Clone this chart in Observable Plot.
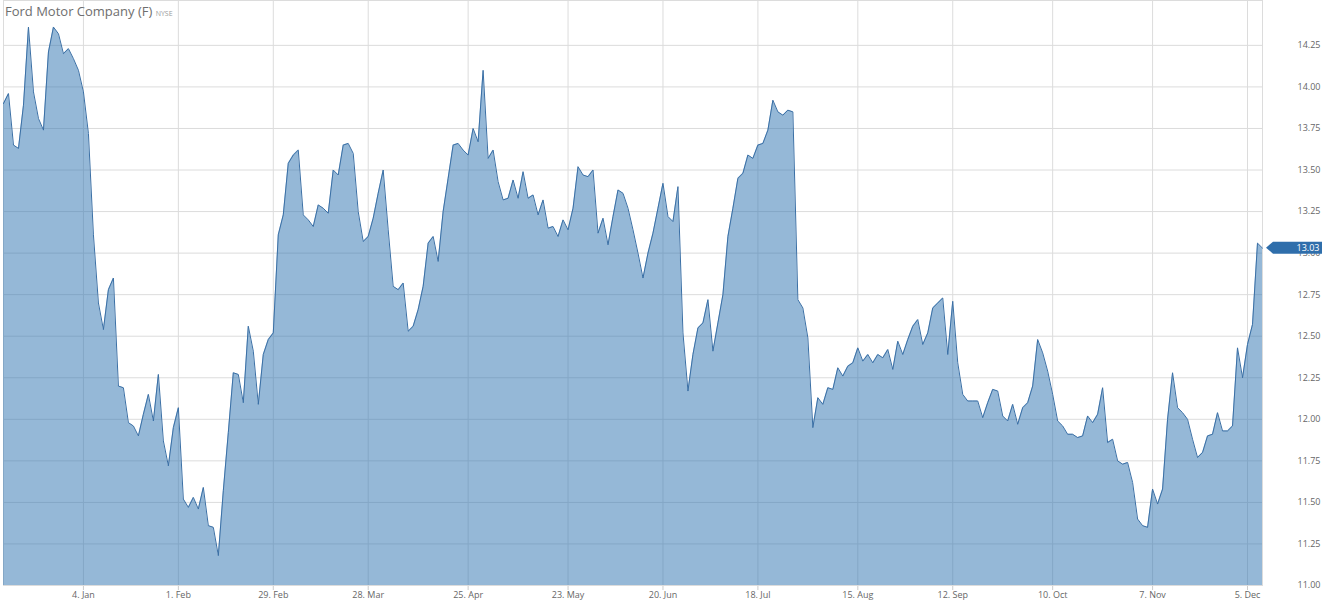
<!DOCTYPE html>
<html>
<head>
<meta charset="utf-8">
<script src="https://cdn.jsdelivr.net/npm/d3@7"></script>
<script src="https://cdn.jsdelivr.net/npm/@observablehq/plot@0.6"></script>
<style>
  html, body { margin: 0; padding: 0; background: #fff; }
  #wrap { position: relative; width: 1327px; height: 602px; font-family: "Open Sans", sans-serif; }
  #title { position: absolute; left: 5px; top: 2px; font-size: 13px; color: #6e6e6e; white-space: nowrap; pointer-events: none; }
  #title .ex { font-size: 7px; color: #9a9a9a; margin-left: 0px; }
  svg [aria-label="x-axis tick"] { stroke: #cccccc; }
</style>
</head>
<body>
<div id="wrap">
  <div id="chart"></div>
  <div id="title">Ford Motor Company (F) <span class="ex">NYSE</span></div>
</div>
<script>
// Trading days (NYSE), Dec 2015 – Dec 2016
const dates = [
  "2015-12-09","2015-12-10","2015-12-11","2015-12-14","2015-12-15","2015-12-16","2015-12-17","2015-12-18","2015-12-21","2015-12-22","2015-12-23","2015-12-24","2015-12-28","2015-12-29","2015-12-30","2015-12-31",
  "2016-01-04","2016-01-05","2016-01-06","2016-01-07","2016-01-08","2016-01-11","2016-01-12","2016-01-13","2016-01-14","2016-01-15","2016-01-19","2016-01-20","2016-01-21","2016-01-22","2016-01-25","2016-01-26","2016-01-27","2016-01-28","2016-01-29",
  "2016-02-01","2016-02-02","2016-02-03","2016-02-04","2016-02-05","2016-02-08","2016-02-09","2016-02-10","2016-02-11","2016-02-12","2016-02-16","2016-02-17","2016-02-18","2016-02-19","2016-02-22","2016-02-23","2016-02-24","2016-02-25","2016-02-26","2016-02-29",
  "2016-03-01","2016-03-02","2016-03-03","2016-03-04","2016-03-07","2016-03-08","2016-03-09","2016-03-10","2016-03-11","2016-03-14","2016-03-15","2016-03-16","2016-03-17","2016-03-18","2016-03-21","2016-03-22","2016-03-23","2016-03-24","2016-03-28","2016-03-29","2016-03-30","2016-03-31",
  "2016-04-01","2016-04-04","2016-04-05","2016-04-06","2016-04-07","2016-04-08","2016-04-11","2016-04-12","2016-04-13","2016-04-14","2016-04-15","2016-04-18","2016-04-19","2016-04-20","2016-04-21","2016-04-22","2016-04-25","2016-04-26","2016-04-27","2016-04-28","2016-04-29",
  "2016-05-02","2016-05-03","2016-05-04","2016-05-05","2016-05-06","2016-05-09","2016-05-10","2016-05-11","2016-05-12","2016-05-13","2016-05-16","2016-05-17","2016-05-18","2016-05-19","2016-05-20","2016-05-23","2016-05-24","2016-05-25","2016-05-26","2016-05-27","2016-05-31",
  "2016-06-01","2016-06-02","2016-06-03","2016-06-06","2016-06-07","2016-06-08","2016-06-09","2016-06-10","2016-06-13","2016-06-14","2016-06-15","2016-06-16","2016-06-17","2016-06-20","2016-06-21","2016-06-22","2016-06-23","2016-06-24","2016-06-27","2016-06-28","2016-06-29","2016-06-30",
  "2016-07-01","2016-07-05","2016-07-06","2016-07-07","2016-07-08","2016-07-11","2016-07-12","2016-07-13","2016-07-14","2016-07-15","2016-07-18","2016-07-19","2016-07-20","2016-07-21","2016-07-22","2016-07-25","2016-07-26","2016-07-27","2016-07-28","2016-07-29",
  "2016-08-01","2016-08-02","2016-08-03","2016-08-04","2016-08-05","2016-08-08","2016-08-09","2016-08-10","2016-08-11","2016-08-12","2016-08-15","2016-08-16","2016-08-17","2016-08-18","2016-08-19","2016-08-22","2016-08-23","2016-08-24","2016-08-25","2016-08-26","2016-08-29","2016-08-30","2016-08-31",
  "2016-09-01","2016-09-02","2016-09-06","2016-09-07","2016-09-08","2016-09-09","2016-09-12","2016-09-13","2016-09-14","2016-09-15","2016-09-16","2016-09-19","2016-09-20","2016-09-21","2016-09-22","2016-09-23","2016-09-26","2016-09-27","2016-09-28","2016-09-29","2016-09-30",
  "2016-10-03","2016-10-04","2016-10-05","2016-10-06","2016-10-07","2016-10-10","2016-10-11","2016-10-12","2016-10-13","2016-10-14","2016-10-17","2016-10-18","2016-10-19","2016-10-20","2016-10-21","2016-10-24","2016-10-25","2016-10-26","2016-10-27","2016-10-28","2016-10-31",
  "2016-11-01","2016-11-02","2016-11-03","2016-11-04","2016-11-07","2016-11-08","2016-11-09","2016-11-10","2016-11-11","2016-11-14","2016-11-15","2016-11-16","2016-11-17","2016-11-18","2016-11-21","2016-11-22","2016-11-23","2016-11-25","2016-11-28","2016-11-29","2016-11-30",
  "2016-12-01","2016-12-02","2016-12-05","2016-12-06","2016-12-07","2016-12-08"
];

// Closing prices (USD)
const prices = [
  13.90,13.96,13.65,13.63,13.89,14.36,13.97,13.81,13.74,14.21,14.36,14.32,14.20,14.23,14.17,14.10,
  13.97,13.72,13.11,12.70,12.54,12.78,12.85,12.20,12.19,11.98,11.96,11.90,12.03,12.15,11.99,12.27,11.87,11.72,11.95,
  12.07,11.52,11.47,11.53,11.46,11.59,11.36,11.35,11.18,11.57,11.92,12.28,12.27,12.10,12.56,12.41,12.09,12.39,12.48,12.52,
  13.11,13.23,13.54,13.59,13.62,13.23,13.20,13.16,13.29,13.27,13.24,13.50,13.47,13.65,13.66,13.60,13.25,13.07,13.10,13.21,13.36,13.50,
  13.14,12.80,12.78,12.82,12.53,12.56,12.66,12.80,13.06,13.10,12.95,13.25,13.45,13.65,13.66,13.62,13.59,13.75,13.67,14.10,13.57,
  13.62,13.43,13.32,13.33,13.44,13.33,13.49,13.33,13.35,13.23,13.32,13.15,13.16,13.10,13.20,13.14,13.27,13.52,13.47,13.46,13.50,
  13.12,13.21,13.05,13.22,13.38,13.36,13.27,13.14,13.00,12.85,13.00,13.12,13.27,13.42,13.22,13.19,13.40,12.52,12.17,12.39,12.55,12.58,
  12.72,12.41,12.58,12.75,13.10,13.27,13.45,13.48,13.59,13.57,13.65,13.66,13.74,13.92,13.85,13.83,13.86,13.85,12.72,12.67,
  12.49,11.95,12.13,12.09,12.19,12.18,12.31,12.26,12.32,12.34,12.43,12.35,12.39,12.34,12.39,12.37,12.42,12.30,12.47,12.39,12.48,12.56,12.60,
  12.45,12.52,12.67,12.70,12.73,12.39,12.71,12.34,12.15,12.11,12.11,12.11,12.01,12.10,12.18,12.17,12.02,11.99,12.09,11.97,12.07,
  12.10,12.20,12.48,12.40,12.29,12.15,11.99,11.96,11.91,11.91,11.89,11.90,12.02,11.98,12.03,12.19,11.86,11.88,11.75,11.73,11.74,
  11.62,11.40,11.36,11.35,11.58,11.49,11.58,12.00,12.28,12.07,12.04,12.00,11.88,11.77,11.80,11.90,11.91,12.04,11.93,11.93,11.96,
  12.43,12.25,12.45,12.57,13.06,13.03
];

// X-axis tick dates and labels
const tickDates = ["2016-01-04","2016-02-01","2016-02-29","2016-03-28","2016-04-25","2016-05-23","2016-06-20","2016-07-18","2016-08-15","2016-09-12","2016-10-10","2016-11-07","2016-12-05"];
const tickLabels = ["4. Jan","1. Feb","29. Feb","28. Mar","25. Apr","23. May","20. Jun","18. Jul","15. Aug","12. Sep","10. Oct","7. Nov","5. Dec"];

// Y-axis ticks and domain
const yTicks = [11.00,11.25,11.50,11.75,12.00,12.25,12.50,12.75,13.00,13.25,13.50,13.75,14.00,14.25];
const yDomain = [11.00, 14.52];

const data = dates.map((d, i) => ({i, date: d, price: prices[i]}));
const tickIdx = tickDates.map(d => dates.indexOf(d));
const lastIdx = dates.length - 1;
const lastPrice = prices[prices.length - 1];

function lastPriceFlag(index, scales, values, dimensions) {
  const y = scales.y(lastPrice);
  const x0 = dimensions.width - dimensions.marginRight + 4;
  const g = d3.create("svg:g");
  g.append("path")
    .attr("d", `M${x0},${y} L${x0 + 7},${y - 6} H${x0 + 56} V${y + 6} H${x0 + 7} Z`)
    .attr("fill", "#2f6eab");
  g.append("text")
    .attr("x", x0 + 42)
    .attr("y", y)
    .attr("dy", "0.35em")
    .attr("text-anchor", "middle")
    .attr("fill", "#ffffff")
    .attr("font-size", 9)
    .text(lastPrice.toFixed(2));
  return g.node();
}

const chart = Plot.plot({
  width: 1327,
  height: 602,
  marginLeft: 3,
  marginRight: 65,
  marginTop: 0,
  marginBottom: 17,
  style: {fontFamily: "'Open Sans', sans-serif", fontSize: "9px", color: "#666666", background: "#ffffff", overflow: "visible"},
  x: {
    type: "linear",
    domain: [0, lastIdx],
    ticks: tickIdx,
    tickFormat: v => tickLabels[tickIdx.indexOf(v)],
    tickSize: 5,
    tickPadding: 1,
    label: null
  },
  y: {
    domain: yDomain,
    axis: "right",
    ticks: yTicks,
    tickFormat: v => v.toFixed(2),
    tickSize: 0,
    tickPadding: 35,
    label: null
  },
  marks: [
    Plot.ruleY(yTicks, {stroke: "#dcdcdc", strokeWidth: 1}),
    Plot.ruleX(tickIdx, {stroke: "#dcdcdc", strokeWidth: 1}),
    Plot.frame({stroke: "#dcdcdc"}),
    Plot.areaY(data, {x: "i", y1: yDomain[0], y2: "price", fill: "#2b72b0", fillOpacity: 0.5}),
    Plot.lineY(data, {x: "i", y: "price", stroke: "#3a6fa5", strokeWidth: 1}),
    lastPriceFlag
  ]
});
document.getElementById("chart").appendChild(chart);
</script>
</body>
</html>
